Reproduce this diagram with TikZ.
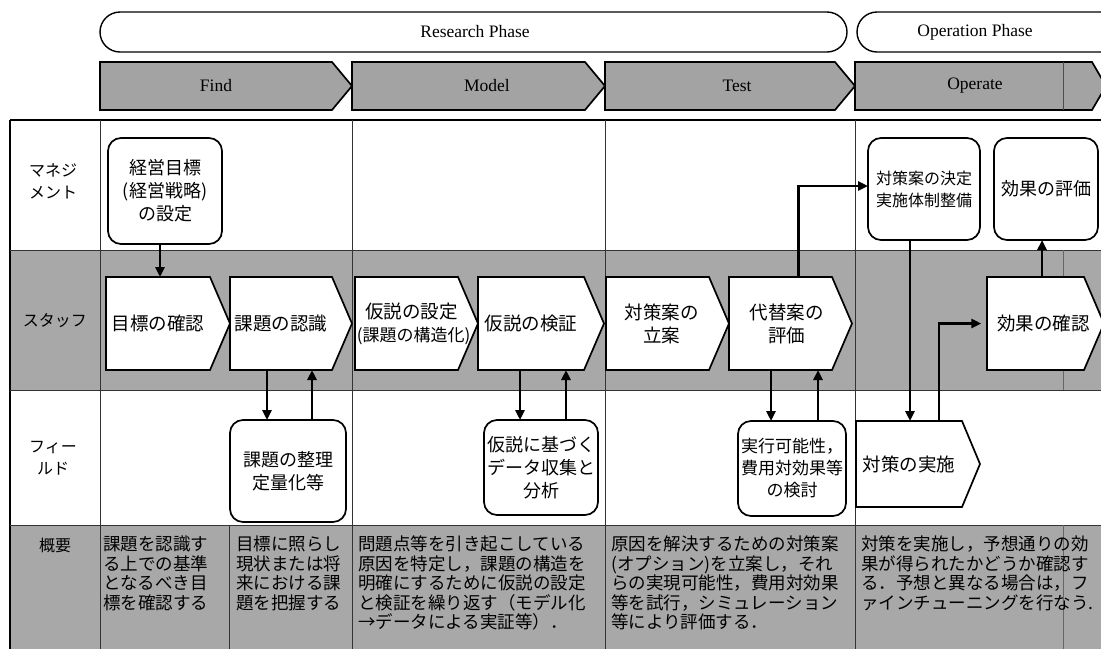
\documentclass[tikz,border=0pt]{standalone}
\usepackage{fontspec}
\setmainfont{Liberation Serif}
\newfontfamily\jp{Noto Sans CJK JP}
\usetikzlibrary{arrows.meta,calc}
\tikzset{
  shade/.style={fill=black!34},
  chevline/.style={draw=black,line width=1.7pt,fill=white},
  hdrchev/.style={fill=black!36},
  chevtext/.style={inner sep=0pt,outer sep=0pt,align=center,font=\jp\fontsize{18.5}{23}\selectfont},
  rbox/.style={draw=black,line width=1.7pt,rounded corners=13pt,fill=white,inner sep=0pt,outer sep=0pt,align=center,font=\jp\fontsize{18}{23}\selectfont},
  phase/.style={draw=black,line width=1.4pt,rounded corners=20pt},
  phasetext/.style={font=\fontsize{17.5}{20}\selectfont},
  hdrtext/.style={font=\fontsize{17.5}{20}\selectfont},
  lbl/.style={align=center,font=\jp\fontsize{16}{22}\selectfont},
  sumtext/.style={anchor=north west,align=left,inner sep=0pt,font=\jp\fontsize{17.5}{19.4}\selectfont},
  thinline/.style={line width=0.6pt,draw=black!80},
  arr/.style={line width=2.8pt,-{Triangle[length=10pt,width=9pt]}}
}
% #1 style, #2 name, #3 x1, #4 xtip, #5 ytop, #6 ybot, #7 depth, #8 text
\newcommand{\mychev}[8][]{%
  \draw[chevline,#1] (#3,#5) -- ({#4-#7},#5) -- (#4,{(#5+#6)/2}) -- ({#4-#7},#6) -- (#3,#6) -- cycle;
  \node[chevtext,minimum width={#4-#7-#3},minimum height={#6-#5}] (#2) at ({(#3+#4-#7)/2},{(#5+#6)/2}) {#8};}
\begin{document}
\begin{tikzpicture}[x=1pt,y=-1pt]
\useasboundingbox (0,0) rectangle (1101,649);
\fill[white] (0,0) rectangle (1101,649);

% phases
\draw[phase] (100,12) rectangle (847,52);
\node[phasetext] (rp) at (475,32) {Research Phase};
\draw[phase] (857,12) rectangle (1125,52);
\node[phasetext] (op) at (975,32) {Operation Phase};

% header chevrons
\mychev[hdrchev]{hf}{100}{352}{62}{110}{20}{}
\mychev[hdrchev]{hm}{352}{605}{62}{110}{20}{}
\mychev[hdrchev]{ht}{605}{855}{62}{110}{20}{}
\mychev[hdrchev]{ho}{855}{1106}{62}{110}{14}{}
\node[hdrtext] (tf) at (216,86) {Find};
\node[hdrtext] (tm) at (487,86) {Model};
\node[hdrtext] (tt) at (737,86) {Test};
\node[hdrtext] (to) at (975,86) {Operate};
\draw[line width=0.5pt,black!70] (1063,62) -- (1063,110);

% row shading
\fill[shade] (10,250) rectangle (1101,390);
\fill[shade] (10,525) rectangle (1101,649);

% table lines
\draw[line width=2pt] (10,120) -- (1101,120);
\draw[line width=1.8pt] (10,120) -- (10,649);
\draw[thinline] (10,250) -- (1101,250);
\draw[thinline] (10,390) -- (1101,390);
\draw[thinline] (10,525) -- (1101,525);
\foreach \xx in {100,352,605,855} \draw[thinline] (\xx,120) -- (\xx,649);
\draw[thinline] (229,525) -- (229,649);
\draw[line width=0.5pt,black!60] (1063,250) -- (1063,390);
\draw[line width=0.5pt,black!60] (1063,525) -- (1063,649);

% left labels
\node[lbl] (l1) at (53,181) {マネジ\\メント};
\node[lbl] (l2) at (55,321) {スタッフ};
\node[lbl] (l3) at (53,458) {フィー\\ルド};
\node[lbl,anchor=north] (l4) at (55,535) {概要};

% management boxes
\node[rbox,minimum width=114,minimum height=106] (m1) at (165,191) {経営目標\\(経営戦略)\\の設定};
\node[rbox,minimum width=112,minimum height=102,font=\jp\fontsize{16}{22}\selectfont] (m2) at (924,189) {対策案の決定\\実施体制整備};
\node[rbox,minimum width=104,minimum height=102] (m3) at (1046,189) {効果の評価};

% staff chevrons
\mychev{s1}{106}{230}{277}{370}{20}{目標の確認}
\mychev{s2}{230}{352}{277}{370}{20}{課題の認識}
\mychev{s3}{355}{478}{277}{370}{20}{\hspace*{10pt}仮説の設定\\\hspace*{14pt}{\fontsize{17}{19}\selectfont(課題の構造化)}}
\mychev{s4}{478}{604}{277}{370}{20}{仮説の検証}
\mychev{s5}{606}{729}{277}{370}{20}{\hspace*{8pt}対策案の\\\hspace*{8pt}立案}
\mychev{s6}{729}{852}{277}{370}{20}{\hspace*{12pt}代替案の\\\hspace*{12pt}評価}
\mychev{s7}{987}{1104}{277}{370}{20}{\hspace*{16pt}効果の確認}

% field boxes
\node[rbox,minimum width=116,minimum height=102] (f1) at (288,471) {課題の整理\\定量化等};
\node[rbox,minimum width=114,minimum height=95] (f2) at (541,467.5) {仮説に基づく\\データ収集と\\分析};
\node[rbox,minimum width=108,minimum height=95,font=\jp\fontsize{17}{22}\selectfont] (f3) at (792,468.5) {実行可能性，\\費用対効果等\\の検討};
\mychev{f4}{856}{980}{421}{507}{18}{対策の実施}

% connectors
\draw[arr] ([xshift=-5pt]m1.south) -- ([xshift=-5pt]m1.south |- s1.north);
\draw[arr] ([xshift=-21pt]f1.north |- s2.south) -- ([xshift=-21pt]f1.north);
\draw[arr] ([xshift=24pt]f1.north) -- ([xshift=24pt]f1.north |- s2.south);
\draw[arr] ([xshift=-21pt]f2.north |- s4.south) -- ([xshift=-21pt]f2.north);
\draw[arr] ([xshift=25pt]f2.north) -- ([xshift=25pt]f2.north |- s4.south);
\draw[arr] ([xshift=-21pt]f3.north |- s6.south) -- ([xshift=-21pt]f3.north);
\draw[arr] ([xshift=26pt]f3.north) -- ([xshift=26pt]f3.north |- s6.south);
\draw[arr] ([xshift=18pt]s6.north) |- ([yshift=3pt]m2.west);
\draw[arr] ([xshift=-14pt]m2.south) -- ([xshift=-14pt]m2.south |- f4.north);
\draw[arr] ([xshift=30pt]f4.north) |- (s7.west);
\draw[arr] ([xshift=-4pt]m3.south |- s7.north) -- ([xshift=-4pt]m3.south);

% summary texts
\node[sumtext] (ta) at (103,536) {課題を認識す\\る上での基準\\となるべき目\\標を確認する};
\node[sumtext] (tb) at (236,536) {目標に照らし\\現状または将\\来における課\\題を把握する};
\node[sumtext] (tc) at (358,536) {問題点等を引き起こしている\\原因を特定し，課題の構造を\\明確にするために仮説の設定\\と検証を繰り返す（モデル化\\→データによる実証等）．};
\node[sumtext] (td) at (611,536) {原因を解決するための対策案\\(オプション)を立案し，それ\\らの実現可能性，費用対効果\\等を試行，シミュレーション\\等により評価する．};
\node[sumtext] (te) at (861,536) {対策を実施し，予想通りの効\\果が得られたかどうか確認す\\る．予想と異なる場合は，フ\\ァインチューニングを行なう.};
\end{tikzpicture}
\end{document}
